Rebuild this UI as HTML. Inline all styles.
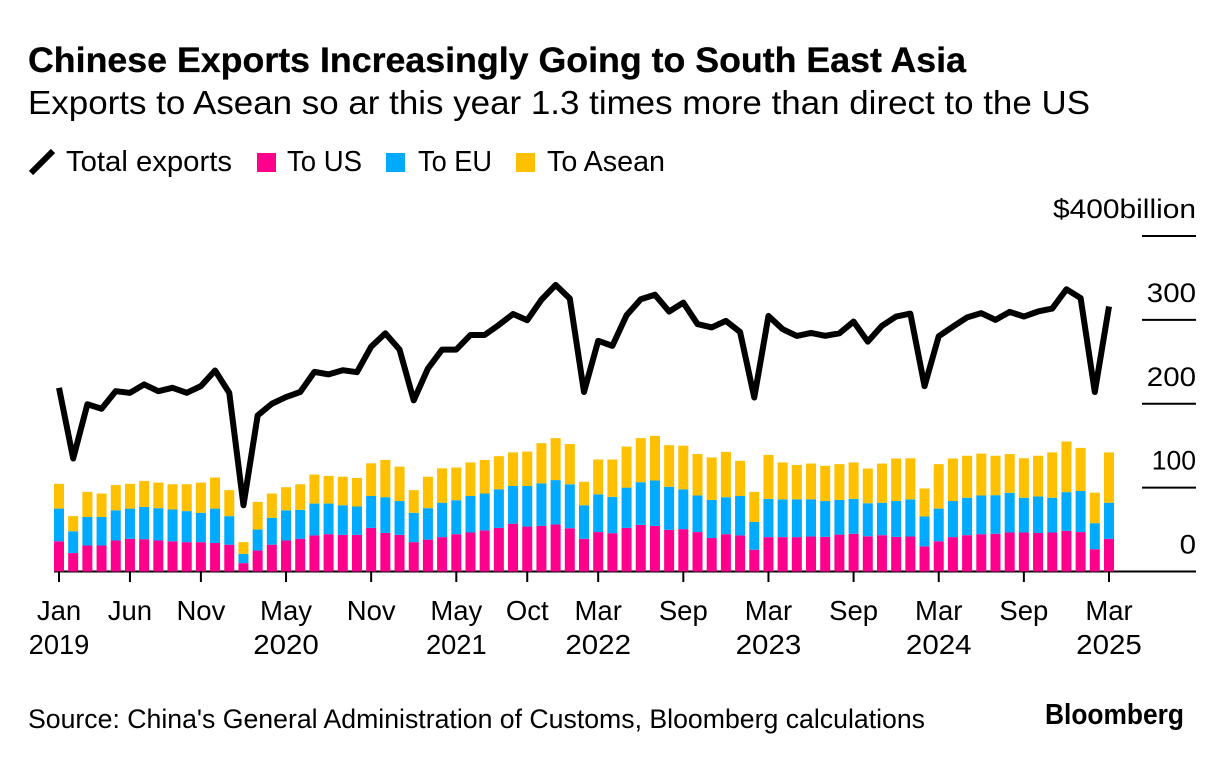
<!DOCTYPE html>
<html lang="en">
<head>
<meta charset="utf-8">
<title>Chinese Exports Increasingly Going to South East Asia</title>
<style>
html,body{margin:0;padding:0;background:#fff;width:1223px;height:760px;overflow:hidden}
svg{display:block}
text{font-family:"Liberation Sans",Arial,sans-serif;fill:#000}
</style>
</head>
<body>
<svg id="chart" xmlns="http://www.w3.org/2000/svg" width="1223" height="760" viewBox="0 0 1223 760">
  <rect x="0" y="0" width="1223" height="760" fill="#fff"/>
  <text x="28" y="72" font-size="35" font-weight="700" stroke="#000" stroke-width="0.3" textLength="938" lengthAdjust="spacingAndGlyphs">Chinese Exports Increasingly Going to South East Asia</text>
  <text x="28" y="114" font-size="33" textLength="1062" lengthAdjust="spacingAndGlyphs">Exports to Asean so ar this year 1.3 times more than direct to the US</text>

  <g>
    <line x1="31" y1="173" x2="53" y2="151" stroke="#000" stroke-width="6"/>
    <text x="66" y="171" font-size="28.5" textLength="166" lengthAdjust="spacingAndGlyphs">Total exports</text>
    <rect x="257" y="153" width="19" height="19" fill="#ff008c"/>
    <text x="287" y="171" font-size="28.5" textLength="75" lengthAdjust="spacingAndGlyphs">To US</text>
    <rect x="386" y="153" width="19" height="19" fill="#00aaff"/>
    <text x="418" y="171" font-size="28.5" textLength="74" lengthAdjust="spacingAndGlyphs">To EU</text>
    <rect x="516" y="153" width="19" height="19" fill="#ffc000"/>
    <text x="547" y="171" font-size="28.5" textLength="118" lengthAdjust="spacingAndGlyphs">To Asean</text>
  </g>

  <g id="y-axis"></g>
  <g id="bars"></g>
  <g id="x-axis"></g>
  <path id="total-line" fill="none" stroke="#000" stroke-width="6" stroke-linejoin="round" stroke-linecap="butt"/>

  <text x="28" y="728" font-size="27" textLength="897" lengthAdjust="spacingAndGlyphs">Source: China's General Administration of Customs, Bloomberg calculations</text>
  <text x="1045" y="724" font-size="29" font-weight="700" textLength="139" lengthAdjust="spacingAndGlyphs">Bloomberg</text>
</svg>
<script>
var usValues = [36,22,31,31,37,39,38.5,37,36,35,35,34,32,10,25,32,37,39,43,44.5,43.7,43.7,52,46,43.7,35,38,41,44.5,46.5,49,52,57,53.6,54.4,56,51.6,39,47,45.7,52,55.6,54.4,49.7,50.5,47,40,44.5,43,26,41,41,41,41.7,41.3,44,45,42,43.3,41.3,41.7,30,36,41,43.3,44.5,45,46.5,46.5,46,46.5,48.5,47,26.6,39];
var euValues = [39,26,34,34,36,36,38.5,38.5,38,37,35,41,34,11,25,32,36,34.5,38,36.5,35.3,33.8,38,42.6,40.3,35,37.5,41,40.5,43.5,44,46,45,48.4,50.6,53,52.4,40,45,43.3,48,50.9,54.1,51.3,47.5,43.6,45.4,44.1,47,33,45.6,45,45,44.3,42.7,41.4,41.6,39.4,38.7,42.7,44.3,35.6,39,43,44.7,46.1,46,47.3,41.5,43.4,41.5,46.1,49,31,43];
var aseanValues = [29.5,18,30,28,30,29.5,31,30.5,30,32,36,37,31,14,33,29,27.5,30.5,34.6,33,34,34.1,39,44.4,41,27,37.5,41,39,40,40,39.5,40,41,48,50,48,28,41.5,44.5,49,52.5,53.2,49.6,52,49.4,50.6,54,42,36,52.4,44,41,42.7,42,42.6,43.4,41.4,46.7,50.7,49,33.4,53,50.7,50,50,47,46.2,47,48.6,54,60.4,51.4,36.4,60];
var totalValues = [219,134.7,199.4,194,215,213,223,215,219,213,221,239.6,213,79,186,200,208,214,238,235,240,237.6,268,284,264.6,204,242,264.6,264.6,282,282,294,307,299.6,324,341.7,325.4,214,275,269,305.5,324.6,330,309.9,320.6,295,291,298.8,285.6,207.4,304.7,288.9,280.9,284.5,281,284,298,274,293,304,307.5,221,280.5,292,303,308,300,309.5,304,310,313.5,336.5,326,214,316];
var yTickValues = [0,100,200,300,400];
var yTickLabels = ["0","100","200","300","$400billion"];
var xTickMonths = [0,5,10,16,22,28,33,38,44,50,56,62,68,74];
var xTickLabels = ["Jan","Jun","Nov","May","Nov","May","Oct","Mar","Sep","Mar","Sep","Mar","Sep","Mar"];
var xTickYears = ["2019","","","2020","","2021","","2022","","2023","","2024","","2025"];

var NS = "http://www.w3.org/2000/svg";
function xScale(i){ return 59 + i * (1050 / 74); }
function yScale(v){ return 571.5 - v * (335.5 / 400); }
function digitsWidth(str){
  var w = 0;
  for (var c = 0; c < str.length; c++) w += str.charAt(c) === "1" ? 11.5 : 16.4;
  return w;
}
function make(tag, parent, attrs){
  var el = document.createElementNS(NS, tag);
  for (var k in attrs) el.setAttribute(k, attrs[k]);
  parent.appendChild(el);
  return el;
}

var barsGroup = document.getElementById("bars");
var stackColors = ["#ff008c", "#00aaff", "#ffc000"];
var stackKeys = ["us", "eu", "asean"];
var stacks = [usValues, euValues, aseanValues];
var barWidth = 10;
for (var i = 0; i < usValues.length; i++) {
  var cum = 0;
  for (var s = 0; s < stacks.length; s++) {
    var v = stacks[s][i];
    var r = make("rect", barsGroup, {
      x: xScale(i) - barWidth / 2,
      y: yScale(cum + v),
      width: barWidth,
      height: yScale(cum) - yScale(cum + v),
      fill: stackColors[s]
    });
    
    
    cum += v;
  }
}

var d = "";
for (var j = 0; j < totalValues.length; j++) {
  d += (j ? "L" : "M") + xScale(j).toFixed(2) + " " + yScale(totalValues[j]).toFixed(2);
}
document.getElementById("total-line").setAttribute("d", d);

var yAxis = document.getElementById("y-axis");
for (var t = 0; t < yTickValues.length; t++) {
  var val = yTickValues[t];
  var yy = yScale(val);
  var isZero = val === 0;
  var gl = make("line", yAxis, {
    x1: isZero ? 54 : 1142,
    x2: 1196,
    y1: yy,
    y2: yy,
    stroke: "#000",
    "stroke-width": 2
  });
  
  
  var label = yTickLabels[t];
  var tl = make("text", yAxis, {
    x: 1196,
    y: yy - 18,
    "font-size": 27,
    "text-anchor": "end",
    textLength: label.length > 3 ? 143 : digitsWidth(label),
    lengthAdjust: "spacingAndGlyphs"
  });
  tl.textContent = label;
  
  
}

var xAxis = document.getElementById("x-axis");
for (var m = 0; m < xTickMonths.length; m++) {
  var xx = xScale(xTickMonths[m]);
  var tk = make("line", xAxis, {
    x1: xx,
    x2: xx,
    y1: 571,
    y2: 582,
    stroke: "#000",
    "stroke-width": 2
  });
  
  
  var ml = make("text", xAxis, {
    x: xx,
    y: 620,
    "font-size": 27.5,
    "text-anchor": "middle"
  });
  ml.textContent = xTickLabels[m];
  
  
  if (xTickYears[m]) {
    var yl = make("text", xAxis, {
      x: xx,
      y: 654,
      "font-size": 27.5,
      "text-anchor": "middle",
      textLength: digitsWidth(xTickYears[m]),
      lengthAdjust: "spacingAndGlyphs"
    });
    yl.textContent = xTickYears[m];
    
    
  }
}
</script>
</body>
</html>
